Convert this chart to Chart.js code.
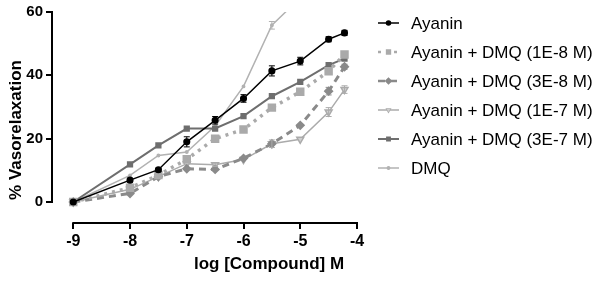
<!DOCTYPE html>
<html>
<head>
<meta charset="utf-8">
<script src="https://cdn.jsdelivr.net/npm/chart.js@4.4.1/dist/chart.umd.min.js"></script>
<style>
  html, body { margin: 0; padding: 0; background: #fff; }
  #wrap { width: 598px; height: 288px; position: relative; }
</style>
</head>
<body>
<div id="wrap"><canvas id="grafico"></canvas></div>
<script>
// log [Compound] M
var logConc = [-9, -8, -7.5, -7, -6.5, -6, -5.5, -5, -4.5, -4.22];
var xTicks = [-9, -8, -7, -6, -5, -4];
var yTicks = [0, 20, 40, 60];
var tituloX = "log [Compound] M";
var tituloY = "% Vasorelaxation";

var ayanin = [0, 6.9, 10.2, 19.0, 25.8, 32.7, 41.4, 44.5, 51.4, 53.4];
var ayaninErr = [0, 0.6, 0.5, 1.6, 1.2, 1.2, 1.6, 1.2, 0.8, 0.8];
var dmq1e8 = [0, 4.5, 8.5, 13.5, 20.0, 22.9, 29.8, 34.8, 41.3, 46.6];
var dmq3e8 = [0, 2.7, 8.0, 10.5, 10.3, 13.8, 18.4, 24.2, 35.0, 42.7];
var dmq3e8Err = [0, 0, 0, 0, 0, 0, 0, 0, 1.2, 0.8];
var dmq1e7 = [0, 4.0, 8.0, 12.1, 11.8, 13.4, 18.4, 19.8, 28.4, 35.5];
var dmq1e7Err = [0, 0, 0, 0, 0.6, 0, 1.2, 0, 1.4, 1.2];
var dmq3e7 = [0, 11.9, 17.9, 23.2, 23.2, 27.1, 33.4, 37.9, 43.2, 45.3];
var dmqSolo = [0, 8.4, 14.7, 15.8, 24.0, 36.5, 55.8, 64.5];
var dmqSoloErr = [0, 0, 0, 0, 0, 0, 1.2, 0];

var legendas = [
  "Ayanin",
  "Ayanin + DMQ (1E-8 M)",
  "Ayanin + DMQ (3E-8 M)",
  "Ayanin + DMQ (1E-7 M)",
  "Ayanin + DMQ (3E-7 M)",
  "DMQ"
];

function pontos(valores) {
  var out = [];
  for (var i = 0; i < valores.length; i++) {
    out.push({ x: logConc[i], y: valores[i] });
  }
  return out;
}

// eixos desenhados a mao (estilo Prism, eixo x separado) + titulos
var eixosPlugin = {
  id: "eixos",
  afterDraw: function (chart) {
    var ctx = chart.ctx;
    var xs = chart.scales.x, ys = chart.scales.y;
    var area = chart.chartArea;
    ctx.save();
    ctx.strokeStyle = "#000";
    ctx.lineWidth = 2;
    ctx.beginPath();
    ctx.moveTo(area.left, ys.getPixelForValue(0) + 1);
    ctx.lineTo(area.left, ys.getPixelForValue(60) - 1);
    ctx.moveTo(xs.getPixelForValue(-9) - 1, area.bottom);
    ctx.lineTo(xs.getPixelForValue(-4) + 1, area.bottom);
    ctx.stroke();

    ctx.fillStyle = "#000";
    ctx.font = "bold 17px 'Liberation Sans', Arial, sans-serif";
    ctx.textAlign = "center";
    ctx.textBaseline = "middle";
    ctx.fillText(tituloX, 269, 264);
    ctx.translate(16, 130);
    ctx.rotate(-Math.PI / 2);
    ctx.fillText(tituloY, 0, 0);
    ctx.restore();
  }
};

var errosPlugin = {
  id: "erros",
  afterDatasetsDraw: function (chart) {
    var ctx = chart.ctx;
    var ys = chart.scales.y;
    chart.data.datasets.forEach(function (ds, i) {
      if (!ds.erros) return;
      var meta = chart.getDatasetMeta(i);
      ctx.save();
      ctx.strokeStyle = ds.borderColor;
      ctx.lineWidth = 1;
      meta.data.forEach(function (p, j) {
        var e = ds.erros[j];
        if (!e) return;
        var v = ds.data[j].y;
        var y1 = ys.getPixelForValue(v + e), y2 = ys.getPixelForValue(v - e);
        ctx.beginPath();
        ctx.moveTo(p.x, y1); ctx.lineTo(p.x, y2);
        ctx.moveTo(p.x - 3, y1); ctx.lineTo(p.x + 3, y1);
        ctx.moveTo(p.x - 3, y2); ctx.lineTo(p.x + 3, y2);
        ctx.stroke();
      });
      ctx.restore();
    });
  }
};

var legendaPlugin = {
  id: "legenda",
  afterDraw: function (chart) {
    var ctx = chart.ctx;
    ctx.save();
    chart.data.datasets.forEach(function (ds, i) {
      var y = 23 + i * 29;
      ctx.strokeStyle = ds.borderColor;
      ctx.lineWidth = Math.min(ds.borderWidth, 2.5);
      ctx.setLineDash(ds.borderDash || []);
      ctx.beginPath();
      ctx.moveTo(378, y); ctx.lineTo(399, y);
      ctx.stroke();
      ctx.setLineDash([]);
      Chart.helpers.drawPoint(ctx, {
        pointStyle: ds.pointStyle,
        radius: Math.min(ds.pointRadius, 2),
        rotation: ds.pointRotation || 0,
        borderWidth: 1
      }, 388.5, y);
      ctx.fillStyle = ds.pointBackgroundColor;
      ctx.strokeStyle = ds.borderColor;
      ctx.fill();
      ctx.fillStyle = "#000";
      ctx.font = "17px 'Liberation Sans', Arial, sans-serif";
      ctx.textBaseline = "middle";
      ctx.fillText(legendas[i], 411, y + 1);
    });
    ctx.restore();
  }
};

function plotarGrafico(idGrafico) {
  var ctx = document.getElementById(idGrafico).getContext("2d");
  return new Chart(ctx, {
    type: "line",
    data: {
      datasets: [
        {
          label: legendas[0], data: pontos(ayanin), erros: ayaninErr,
          borderColor: "#000", backgroundColor: "#000", pointBackgroundColor: "#000",
          borderWidth: 1.5, pointStyle: "circle", pointRadius: 2.8
        },
        {
          label: legendas[1], data: pontos(dmq1e8),
          borderColor: "#aaaaaa", backgroundColor: "#aaaaaa", pointBackgroundColor: "#aaaaaa",
          borderWidth: 3.5, borderDash: [3, 5], pointStyle: "rect", pointRadius: 3.5
        },
        {
          label: legendas[2], data: pontos(dmq3e8), erros: dmq3e8Err,
          borderColor: "#8a8a8a", backgroundColor: "#8a8a8a", pointBackgroundColor: "#8a8a8a",
          borderWidth: 3, borderDash: [7, 5], pointStyle: "rectRot", pointRadius: 2.8
        },
        {
          label: legendas[3], data: pontos(dmq1e7), erros: dmq1e7Err,
          borderColor: "#ababab", backgroundColor: "#cfcfcf", pointBackgroundColor: "#cfcfcf",
          borderWidth: 1.5, pointStyle: "triangle", pointRotation: 180, pointRadius: 4
        },
        {
          label: legendas[4], data: pontos(dmq3e7),
          borderColor: "#6e6e6e", backgroundColor: "#6e6e6e", pointBackgroundColor: "#6e6e6e",
          borderWidth: 2, pointStyle: "rect", pointRadius: 3
        },
        {
          label: legendas[5], data: pontos(dmqSolo), erros: dmqSoloErr,
          borderColor: "#b2b2b2", backgroundColor: "#b2b2b2", pointBackgroundColor: "#b2b2b2",
          borderWidth: 1.5, pointStyle: "circle", pointRadius: 1.2, clip: 0
        }
      ]
    },
    options: {
      responsive: true,
      maintainAspectRatio: false,
      animation: false,
      layout: { padding: { left: 0, top: 12, right: 241, bottom: 0 } },
      plugins: { legend: { display: false }, tooltip: { enabled: false } },
      elements: { line: { tension: 0 }, point: { borderWidth: 1 } },
      scales: {
        x: {
          type: "linear",
          min: -9.375, max: -4,
          afterBuildTicks: function (s) { s.ticks = xTicks.map(function (v) { return { value: v }; }); },
          afterFit: function (s) { s.height = 65; },
          border: { display: false },
          grid: { drawOnChartArea: false, drawTicks: true, tickLength: 6, color: "#000", lineWidth: 2 },
          ticks: { color: "#000", padding: 3, font: { family: "'Liberation Sans', Arial", size: 16, weight: "bold" }, maxRotation: 0 },
          title: { display: false }
        },
        y: {
          min: -6.63, max: 60,
          afterBuildTicks: function (s) { s.ticks = yTicks.map(function (v) { return { value: v }; }); },
          afterFit: function (s) { s.width = 52; },
          border: { display: false },
          grid: { drawOnChartArea: false, drawTicks: true, tickLength: 6, color: "#000", lineWidth: 2 },
          ticks: { color: "#000", padding: 3, font: { family: "'Liberation Sans', Arial", size: 15, weight: "bold" } },
          title: { display: false }
        }
      }
    },
    plugins: [eixosPlugin, errosPlugin, legendaPlugin]
  });
}

plotarGrafico("grafico");
</script>
</body>
</html>
